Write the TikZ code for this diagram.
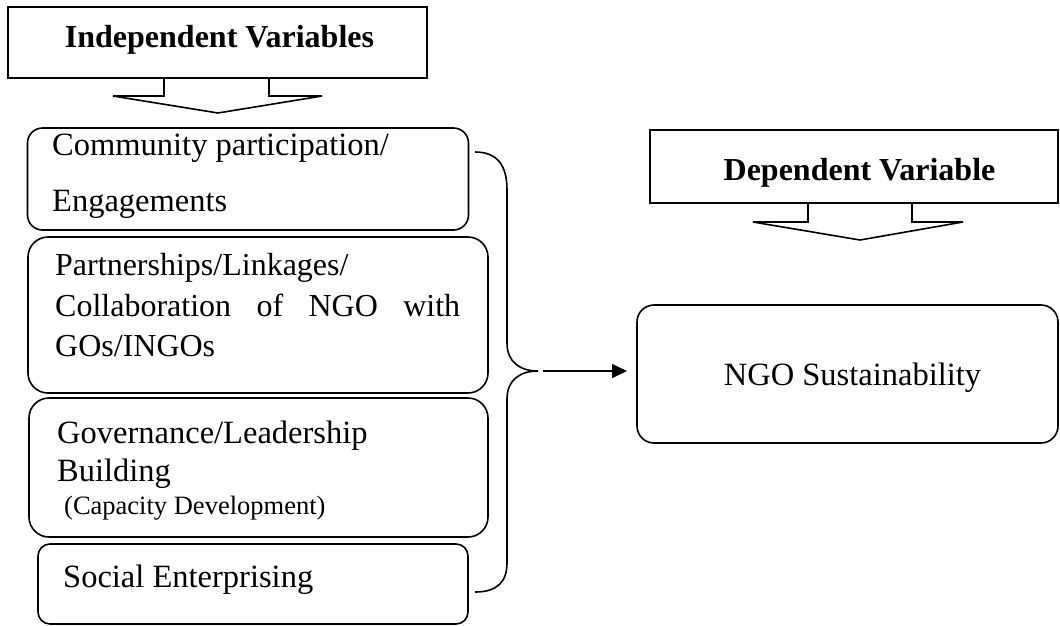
\documentclass[tikz,border=0pt]{standalone}
\usepackage{fontspec}
\setmainfont{Liberation Serif}
\usetikzlibrary{arrows.meta}
\tikzset{
  line/.style={line width=1.6pt, black},
  rbox/.style={line, draw, rectangle, inner sep=0pt},
  txt/.style={anchor=base west, inner sep=0pt, font=\fontsize{32.5}{38}\selectfont},
  ctxt/.style={anchor=base, inner sep=0pt, font=\fontsize{32}{38}\selectfont\bfseries},
  small/.style={anchor=base west, inner sep=0pt, font=\fontsize{26.5}{32}\selectfont},
}
\begin{document}
\begin{tikzpicture}[x=1pt,y=-1pt]
\useasboundingbox (0,0) rectangle (1060,625);
% Independent Variables callout
\node[rbox, minimum width=419pt, minimum height=71pt] (iv) at (217.5,42.5) {};
\node[ctxt] (ivt) at (219.5,47) {Independent Variables};
\draw[line, line join=miter] (164,78) -- (164,96) -- (113,96) -- (218,113) -- (322,96) -- (269,96) -- (269,78);
% Dependent Variable callout
\node[rbox, minimum width=408pt, minimum height=73pt] (dv) at (854,166.5) {};
\node[ctxt] (dvt) at (859.5,180) {Dependent Variable};
\draw[line, line join=miter] (808,203) -- (808,222) -- (753,222) -- (860,240) -- (963,222) -- (912,222) -- (912,203);
% left boxes
\node[rbox, rounded corners=15pt, minimum width=441pt, minimum height=102pt] (b1) at (248,179) {};
\node[txt] (t1a) at (52,155) {Community participation/};
\node[txt] (t1b) at (52,211) {Engagements};
\node[rbox, rounded corners=20pt, minimum width=460pt, minimum height=156pt] (b2) at (258,315) {};
\node[txt, font=\fontsize{32}{38}\selectfont] (t2a) at (55,275) {Partnerships/Linkages/};
\node[txt, font=\fontsize{32}{38}\selectfont, text width=405pt] (t2b) at (55,316) {Collaboration\hfill of\hfill NGO\hfill with};
\node[txt, font=\fontsize{32}{38}\selectfont] (t2c) at (55,356) {GOs/INGOs};
\node[rbox, rounded corners=20pt, minimum width=459pt, minimum height=139pt] (b3) at (258.5,467.5) {};
\node[txt] (t3a) at (57,443) {Governance/Leadership};
\node[txt] (t3b) at (57,481) {Building};
\node[small] (t3c) at (64,514) {(Capacity Development)};
\node[rbox, rounded corners=12pt, minimum width=430pt, minimum height=80pt] (b4) at (253,584) {};
\node[txt] (t4) at (63,587) {Social Enterprising};
% right box
\node[rbox, rounded corners=17pt, minimum width=421pt, minimum height=138pt] (ngo) at (847.5,374) {};
\node[txt, anchor=base] (ngot) at (852.5,385) {NGO Sustainability};
% brace
\coordinate (tip) at (538,371);
\draw[line] (475,152) .. controls (497,152) and (507,165) .. (507,190) -- (507,343)
  .. controls (507,362) and (520,371) .. (tip)
  .. controls (520,371) and (507,380) .. (507,399) -- (507,563)
  .. controls (507,582) and (497,592) .. (475,592);
\coordinate (as) at (543,371);
\coordinate (ae) at (627,371);
\draw[line, -{Triangle[length=15pt,width=14pt]}] (as) -- (ae);
\end{tikzpicture}
\end{document}
